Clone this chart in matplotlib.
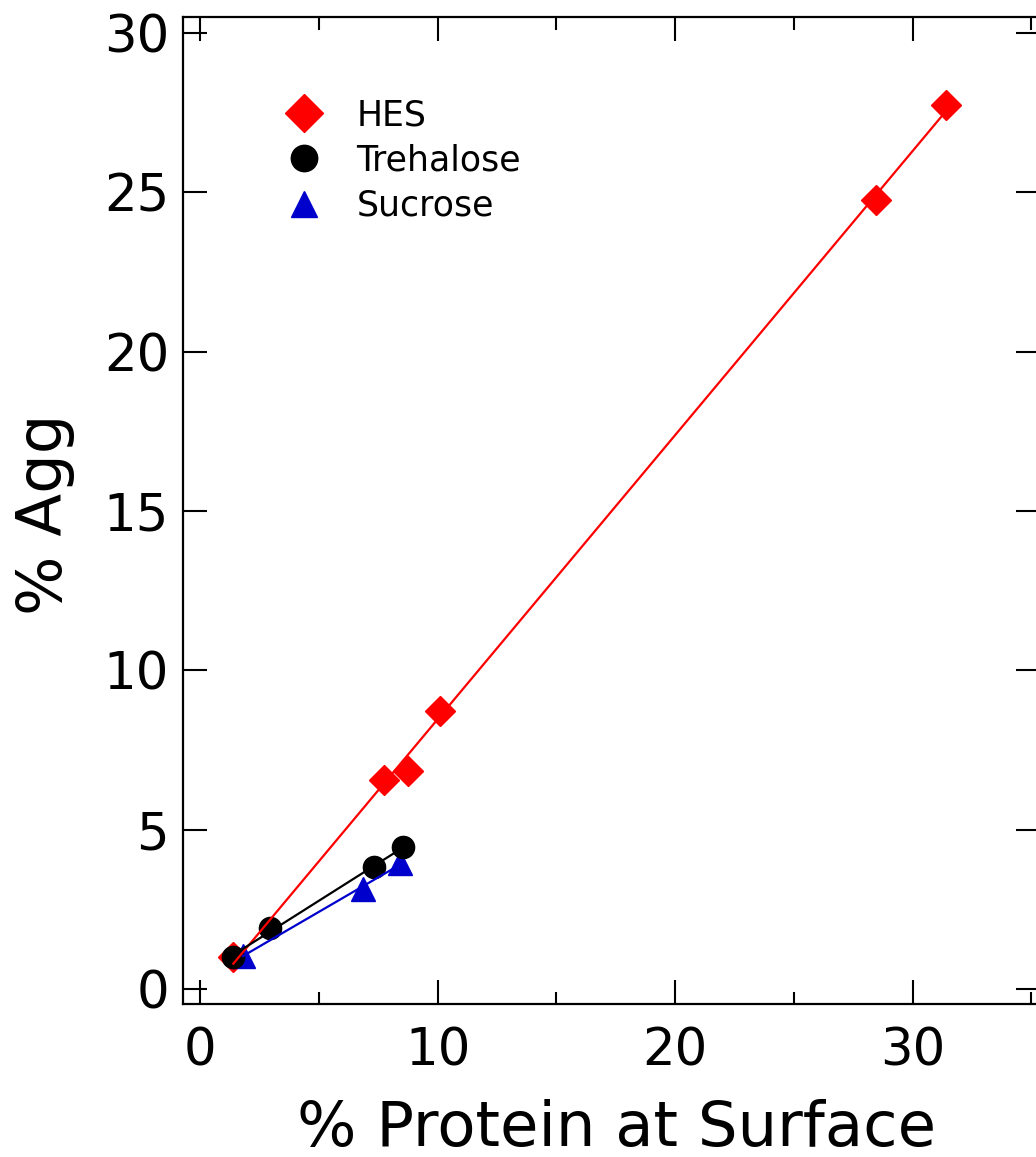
#!/usr/bin/env python3
import numpy as np
import matplotlib
matplotlib.use("Agg")
import matplotlib.pyplot as plt
from matplotlib.ticker import MultipleLocator

# data
hes_x = [1.4, 7.75, 8.75, 10.1, 28.45, 31.4]
hes_y = [1.0, 6.55, 6.85, 8.72, 24.75, 27.75]
tre_x = [1.4, 2.95, 7.32, 8.55]
tre_y = [1.0, 1.9, 3.83, 4.45]
suc_x = [1.8, 6.85, 8.4]
suc_y = [1.05, 3.15, 3.95]

red = "#ff0000"
blue = "#0000cc"


def fitline(x, y):
    # straight least-squares line over the data range
    p = np.polyfit(x, y, 1)
    xx = np.array([min(x), max(x)])
    return xx, np.polyval(p, xx)


fig = plt.figure(figsize=(10.36, 11.57), dpi=100)
ax = fig.add_axes([183/1036, 153/1157, (1040-183)/1036, 987/1157])

# markers first, lines drawn on top
ax.plot(hes_x, hes_y, ls="none", marker="D", ms=15, color=red, mec=red, label="HES", zorder=2)
ax.plot(suc_x, suc_y, ls="none", marker="^", ms=17, color=blue, mec=blue, label="Sucrose", zorder=2)
ax.plot(tre_x, tre_y, ls="none", marker="o", ms=16, color="black", label="Trehalose", zorder=2)
ax.plot(*fitline(hes_x, hes_y), "-", color=red, lw=1.6, zorder=3)
ax.plot(*fitline(tre_x, tre_y), "-", color="black", lw=1.6, zorder=3)
ax.plot(*fitline(suc_x, suc_y), "-", color=blue, lw=1.6, zorder=3)

ax.set_xlim(-0.72, 35.36)
ax.set_ylim(-0.47, 30.5)
ax.xaxis.set_major_locator(MultipleLocator(10))
ax.xaxis.set_minor_locator(MultipleLocator(5))
ax.yaxis.set_major_locator(MultipleLocator(5))

for s in ax.spines.values():
    s.set_linewidth(1.6)
ax.spines["right"].set_visible(False)

ax.tick_params(which="both", direction="in", top=True, right=True, width=1.5, labelsize=37)
ax.tick_params(axis="x", which="major", length=17, pad=16)
ax.tick_params(axis="x", which="minor", length=9)
ax.tick_params(axis="y", which="major", length=17, pad=10)

ax.set_xlabel("% Protein at Surface", fontsize=45)
ax.set_ylabel("% Agg", fontsize=45)
ax.xaxis.set_label_coords(0.506, -0.096)
ax.yaxis.set_label_coords(-0.126, 0.496)

h, l = ax.get_legend_handles_labels()
order = [0, 2, 1]
leg = ax.legend([h[i] for i in order], [l[i] for i in order], loc="upper left",
                bbox_to_anchor=(0.105, 0.932), frameon=False, fontsize=25,
                handlelength=1.0, handletextpad=1.0, labelspacing=0.33,
                borderaxespad=0)
for hd in leg.legend_handles:
    hd.set_markersize(19)

plt.savefig("out.png", dpi=100)
